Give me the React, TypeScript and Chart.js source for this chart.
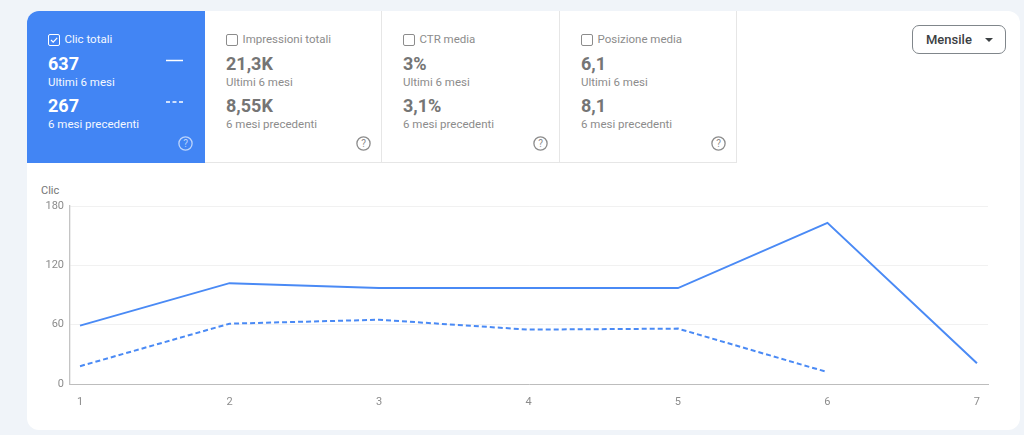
import React, { useRef, useEffect } from 'react';
import { Chart, registerables } from 'chart.js';

Chart.register(...registerables);

const months = [1, 2, 3, 4, 5, 6, 7];
const lastSixMonths = [59, 102, 97, 97, 97, 163, 21];
const previousSixMonths = [18, 61, 65, 55, 56, 12];
const yTicks = [0, 60, 120, 180];

const metricTitles = ['Clic totali', 'Impressioni totali', 'CTR media', 'Posizione media'];
const metricCurrent = ['637', '21,3K', '3%', '6,1'];
const metricPrevious = ['267', '8,55K', '3,1%', '8,1'];

const BLUE = '#4285f4';
const LINE_BLUE = '#4a8af5';
const font = 'Roboto, sans-serif';

const abs = (left: number, top: number, extra: React.CSSProperties = {}): React.CSSProperties => ({
  position: 'absolute',
  left,
  top,
  whiteSpace: 'nowrap',
  ...extra,
});

const MetricTile = ({ index }: { index: number }) => {
  const active = index === 0;
  const strong = active ? '#fff' : '#757575';
  const soft = active ? '#f4f8ff' : '#8c8c8c';
  const tileLeft = [27, 205, 382, 560][index];
  const tileWidth = [178, 177, 178, 177][index];
  return (
    <div
      style={{
        position: 'absolute',
        left: tileLeft,
        top: 11,
        width: tileWidth,
        height: 152,
        boxSizing: 'border-box',
        background: active ? BLUE : '#fff',
        borderRight: active ? 'none' : '1px solid #e6e6e6',
        borderBottom: active ? 'none' : '1px solid #e6e6e6',
        borderTopLeftRadius: active ? 12 : 0,
      }}
    >
      <svg style={abs(21, 23)} width={12} height={12} viewBox="0 0 12 12">
        <rect x={0.5} y={0.5} width={11} height={11} rx={1.5} fill="none" stroke={active ? '#fff' : '#8c8c8c'} />
        {active && <path d="M3 6 L5.2 8.2 L9.2 3.8" fill="none" stroke="#fff" strokeWidth={1.2} />}
      </svg>
      <span style={abs(37.5, 20, { fontSize: 11.5, lineHeight: '16px', color: soft })}>{metricTitles[index]}</span>
      <span style={abs(21, 42, { fontSize: 18, lineHeight: '22px', fontWeight: 700, color: strong })}>{metricCurrent[index]}</span>
      <span style={abs(21, 63, { fontSize: 11.5, lineHeight: '16px', color: soft })}>Ultimi 6 mesi</span>
      <span style={abs(21, 84, { fontSize: 18, lineHeight: '22px', fontWeight: 700, color: strong })}>{metricPrevious[index]}</span>
      <span style={abs(21, 105, { fontSize: 11.5, lineHeight: '16px', color: soft })}>6 mesi precedenti</span>
      {active && (
        <svg style={abs(139, 48)} width={18} height={46} viewBox="0 0 18 46">
          <line x1={0} x2={17} y1={1.5} y2={1.5} stroke="#fff" strokeWidth={1.5} />
          <line x1={0} x2={17} y1={43} y2={43} stroke="#fff" strokeWidth={1.5} strokeDasharray="4 2.5" />
        </svg>
      )}
      <svg style={abs(151, 125)} width={15} height={15} viewBox="0 0 15 15">
        <circle cx={7.5} cy={7.5} r={6.6} fill="none" stroke={active ? '#bcd4fb' : '#8c8c8c'} strokeWidth={1.3} />
        <text x={7.5} y={11} textAnchor="middle" fontSize={10} fontFamily={font} fill={active ? '#bcd4fb' : '#8c8c8c'}>?</text>
      </svg>
    </div>
  );
};

const App: React.FC = () => {
  const chartRef = useRef<HTMLCanvasElement | null>(null);

  useEffect(() => {
    const ctx = chartRef.current?.getContext('2d');
    if (!ctx) return;

    const chart = new Chart(ctx, {
      type: 'line',
      data: {
        datasets: [
          {
            label: 'Ultimi 6 mesi',
            data: lastSixMonths.map((y, i) => ({ x: months[i], y })),
            borderColor: LINE_BLUE,
            borderWidth: 2,
            pointRadius: 0,
            tension: 0,
          },
          {
            label: '6 mesi precedenti',
            data: previousSixMonths.map((y, i) => ({ x: months[i], y })),
            borderColor: LINE_BLUE,
            borderWidth: 2,
            borderDash: [5, 3],
            pointRadius: 0,
            tension: 0,
          },
        ],
      },
      options: {
        animation: false,
        responsive: false,
        layout: { padding: { top: 35, right: 32, left: 0, bottom: 0 } },
        plugins: { legend: { display: false }, tooltip: { enabled: false } },
        scales: {
          x: {
            type: 'linear',
            min: 0.933,
            max: 7.074,
            afterBuildTicks: (scale) => {
              scale.ticks = months.map((value) => ({ value }));
            },
            afterFit: (scale) => {
              scale.height = 37;
            },
            grid: { display: false },
            border: { color: '#bdbdbd', width: 1 },
            ticks: { color: '#8c8c8c', padding: 4, font: { family: font, size: 11 } },
          },
          y: {
            min: 0,
            max: 180,
            afterBuildTicks: (scale) => {
              scale.ticks = yTicks.map((value) => ({ value }));
            },
            afterFit: (scale) => {
              scale.width = 43;
            },
            grid: { color: '#f1f1f1', drawTicks: false },
            border: { color: '#c4c4c4', width: 1.3 },
            ticks: { color: '#8c8c8c', padding: 6, font: { family: font, size: 11 } },
          },
        },
      },
    });

    return () => {
      chart.destroy();
    };
  }, []);

  return (
    <div style={{ position: 'fixed', inset: 0, background: '#f0f4f9', fontFamily: font, overflow: 'hidden' }}>
      <div style={{ position: 'absolute', left: 27, top: 11, width: 993, height: 419, background: '#fff', borderRadius: 12 }} />
      {metricTitles.map((_, i) => (
        <MetricTile key={i} index={i} />
      ))}
      <div
        style={{
          position: 'absolute',
          left: 912,
          top: 25,
          width: 94,
          height: 29,
          boxSizing: 'border-box',
          border: '1px solid #80868b',
          borderRadius: 7,
          background: '#fff',
        }}
      >
        <span style={abs(13, 5, { fontSize: 13, lineHeight: '18px', color: '#3c4043', fontWeight: 500 })}>Mensile</span>
        <svg style={abs(72, 12)} width={8} height={4} viewBox="0 0 8 4">
          <path d="M0 0 L8 0 L4 4 Z" fill="#3c4043" />
        </svg>
      </div>
      <span style={abs(41, 184, { fontSize: 11, lineHeight: '14px', color: '#757575' })}>Clic</span>
      <canvas ref={chartRef} width={993} height={250} style={{ position: 'absolute', left: 27, top: 170.5 }} />
    </div>
  );
};

export default App;
